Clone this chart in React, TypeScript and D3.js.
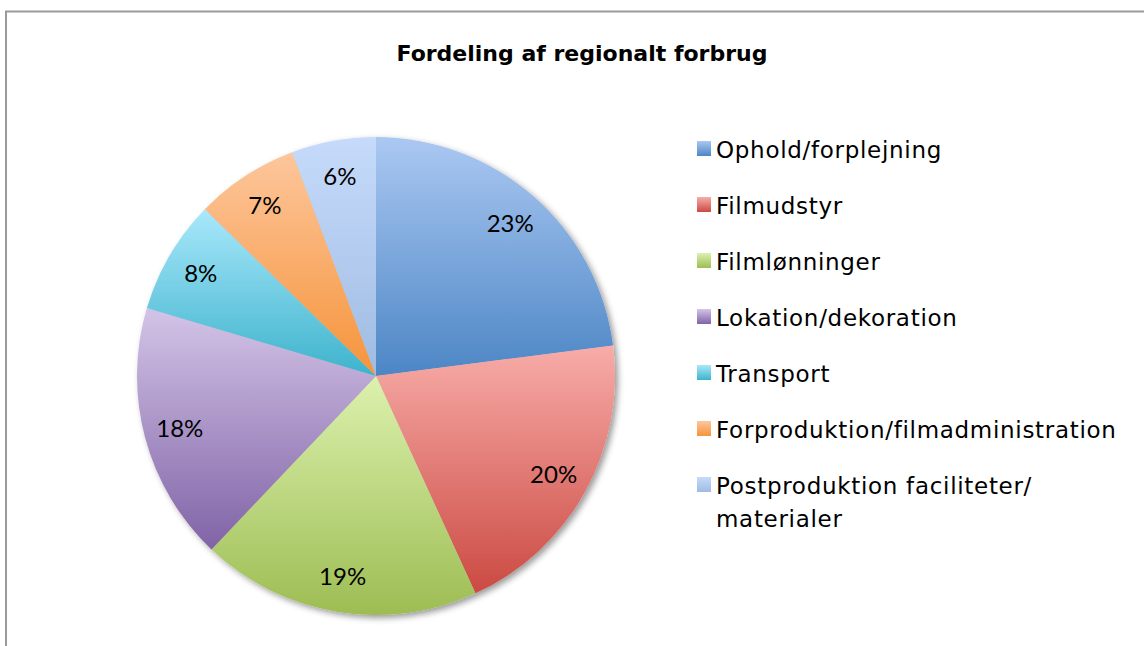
import { useEffect, useRef } from "react";
import * as d3 from "d3";

// Data (share of regional spending, %)
const categories = [
  "Ophold/forplejning",
  "Filmudstyr",
  "Filmlønninger",
  "Lokation/dekoration",
  "Transport",
  "Forproduktion/filmadministration",
  "Postproduktion faciliteter/ materialer",
];
const values = [22.95, 20.2, 18.9, 17.5, 7.7, 7.0, 5.7];
const topColors = ["#abc8f2", "#f8aca8", "#dcf1ae", "#d3c4e7", "#a9e8fb", "#fdc69c", "#c6dbfb"];
const bottomColors = ["#4c86c5", "#cb4a43", "#9dbd53", "#8063a6", "#3db3cc", "#f5943a", "#9fbbe2"];
const title = "Fordeling af regionalt forbrug";

const App = () => {
  const svgRef = useRef<SVGSVGElement>(null);

  useEffect(() => {
    const width = 1144;
    const height = 646;
    const cx = 376;
    const cy = 376;
    const radius = 239;

    const svg = d3.select(svgRef.current);
    svg.selectAll("*").remove();
    svg.attr("width", width).attr("height", height);

    const defs = svg.append("defs");
    categories.forEach((_, i) => {
      const g = defs
        .append("linearGradient")
        .attr("id", `grad${i}`)
        .attr("x1", 0)
        .attr("y1", 0)
        .attr("x2", 0)
        .attr("y2", 1);
      g.append("stop").attr("offset", "0%").attr("stop-color", topColors[i]);
      g.append("stop").attr("offset", "100%").attr("stop-color", bottomColors[i]);
    });
    const shadow = defs
      .append("filter")
      .attr("id", "shadow")
      .attr("x", "-10%")
      .attr("y", "-10%")
      .attr("width", "130%")
      .attr("height", "130%");
    shadow
      .append("feDropShadow")
      .attr("dx", 3)
      .attr("dy", 3)
      .attr("stdDeviation", 3)
      .attr("flood-color", "#000")
      .attr("flood-opacity", 0.4);

    // background + frame
    svg.append("rect").attr("width", width).attr("height", height).attr("fill", "#fff");
    svg
      .append("rect")
      .attr("x", 6)
      .attr("y", 11.5)
      .attr("width", width + 20)
      .attr("height", height + 20)
      .attr("fill", "none")
      .attr("stroke", "#9a9a9a")
      .attr("stroke-width", 2);

    // title
    svg
      .append("text")
      .attr("x", 582)
      .attr("y", 61)
      .attr("text-anchor", "middle")
      .attr("font-family", "DejaVu Sans")
      .attr("font-weight", "bold")
      .attr("font-size", 22)
      .attr("fill", "#000")
      .text(title);

    // pie
    const pie = d3
      .pie<number>()
      .sort(null)
      .value((d) => d);
    const arcs = pie(values);
    const arc = d3.arc<d3.PieArcDatum<number>>().innerRadius(0).outerRadius(radius);
    const labelArc = d3
      .arc<d3.PieArcDatum<number>>()
      .innerRadius(radius * 0.85)
      .outerRadius(radius * 0.85);

    const g = svg.append("g").attr("transform", `translate(${cx},${cy})`);
    g.append("g")
      .attr("filter", "url(#shadow)")
      .selectAll("path")
      .data(arcs)
      .enter()
      .append("path")
      .attr("d", arc)
      .attr("fill", (_, i) => `url(#grad${i})`);

    g.selectAll("text.lbl")
      .data(arcs)
      .enter()
      .append("text")
      .attr("class", "lbl")
      .attr("transform", (d) => `translate(${labelArc.centroid(d)})`)
      .attr("text-anchor", "middle")
      .attr("dy", "0.35em")
      .attr("font-family", "Lato")
      .attr("font-size", 24)
      .attr("fill", "#000")
      .text((d) => `${Math.round(d.data)}%`);

    // legend
    const legend = svg.append("g").attr("transform", "translate(697,0)");
    categories.forEach((name, i) => {
      const y = 158 + i * 56;
      legend
        .append("rect")
        .attr("x", 0)
        .attr("y", y - 17)
        .attr("width", 14)
        .attr("height", 15)
        .attr("fill", `url(#grad${i})`);
      const words = name.split(" ");
      const lines = words.length > 2 ? [words.slice(0, 2).join(" "), words.slice(2).join(" ")] : [name];
      lines.forEach((line, j) => {
        legend
          .append("text")
          .attr("x", 19)
          .attr("y", y + j * 33)
          .attr("font-family", "DejaVu Sans")
          .attr("font-size", 23)
          .attr("letter-spacing", 0.7)
          .attr("fill", "#000")
          .text(line);
      });
    });
  }, []);

  return (
    <svg
      ref={svgRef}
      style={{ position: "absolute", left: 0, top: 0, display: "block" }}
    ></svg>
  );
};

export default App;
